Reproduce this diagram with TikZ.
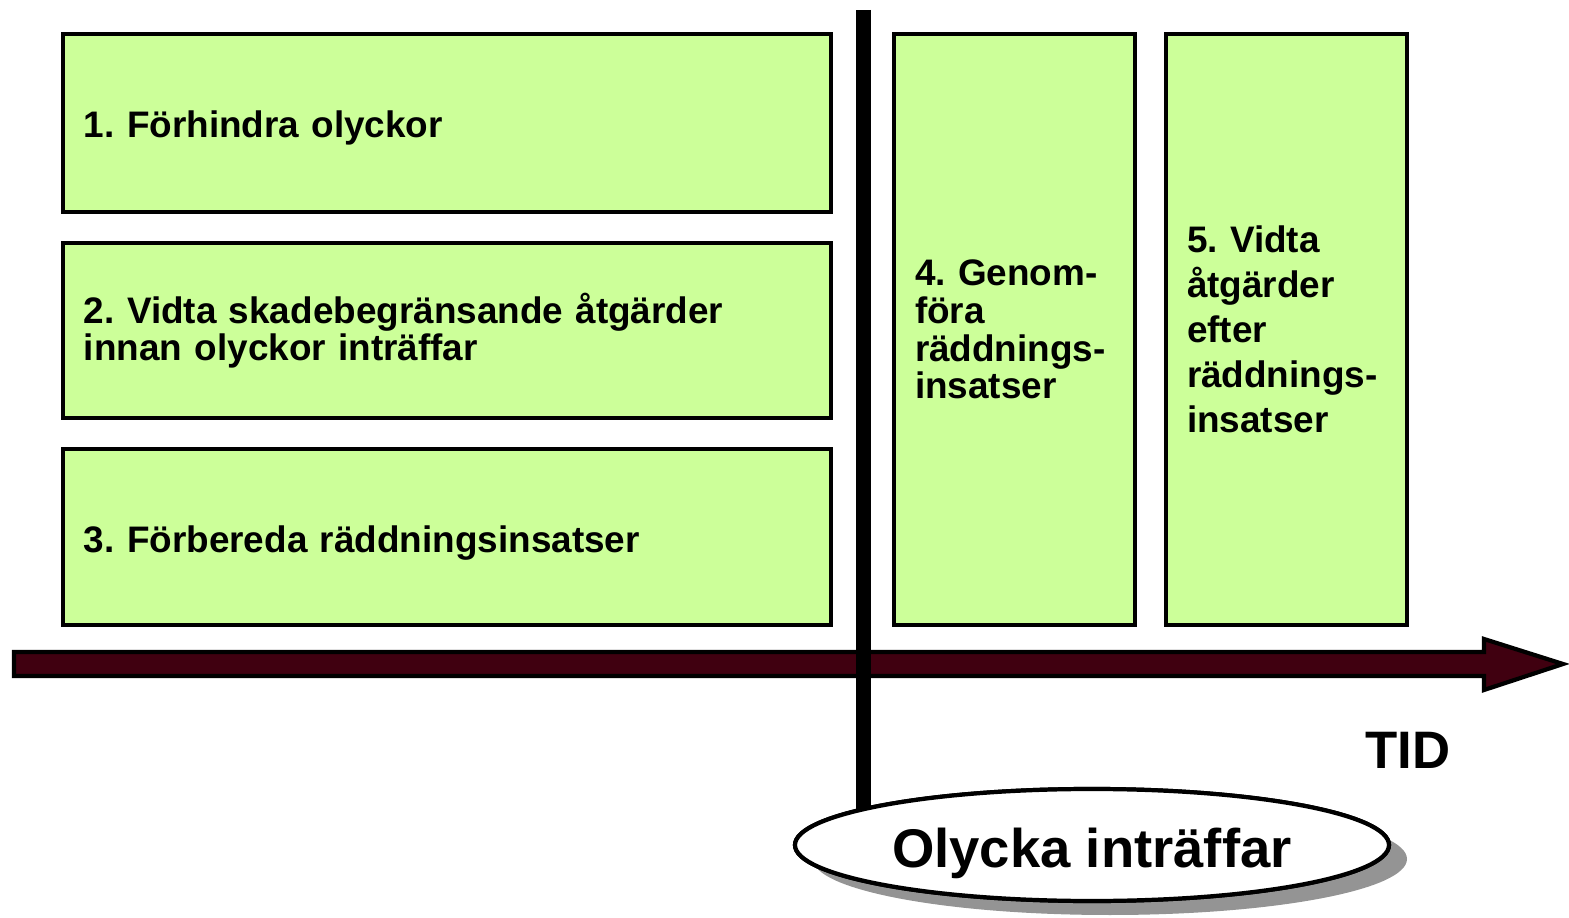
\documentclass[tikz,border=0pt]{standalone}
\usepackage{fontspec}
\setmainfont{Liberation Sans}
\usetikzlibrary{shapes.geometric,shadows}
\definecolor{boxgreen}{RGB}{204,255,153}
\definecolor{tidred}{RGB}{64,0,16}
\frenchspacing
\begin{document}
\begin{tikzpicture}
\tikzstyle{box}=[rectangle,draw,line width=0.9pt,fill=boxgreen,inner xsep=0.21cm,align=left,
  font=\bfseries\fontsize{10.5}{10.7}\selectfont]
\useasboundingbox (0,0) rectangle (15.69,9.17);
\node[box,minimum width=7.68cm,minimum height=1.78cm,text width=7.26cm,text height=0.38cm,text depth=0.08cm] at (4.47,7.94) (b1) {1. Förhindra olyckor};
\node[box,minimum width=7.68cm,minimum height=1.75cm,text width=7.26cm] at (4.47,5.865) (b2) {2. Vidta skadebegränsande åtgärder\\innan olyckor inträffar};
\node[box,minimum width=7.68cm,minimum height=1.76cm,text width=7.26cm,text height=0.38cm,text depth=0.08cm] at (4.47,3.80) (b3) {3. Förbereda räddningsinsatser};
\node[box,minimum width=2.41cm,minimum height=5.91cm,text width=1.99cm] at (10.145,5.875) (b4) {4. Genom-\\föra\\räddnings-\\insatser};
\node[box,minimum width=2.41cm,minimum height=5.91cm,text width=1.99cm,
  font=\bfseries\fontsize{10.5}{12.8}\selectfont] at (12.865,5.875) (b5) {5. Vidta\\åtgärder\\efter\\räddnings-\\insatser};
\draw[line width=1.2pt,fill=tidred] (0.14,2.65) -- (14.84,2.65) -- (14.84,2.78) -- (15.63,2.53)
  -- (14.84,2.27) -- (14.84,2.41) -- (0.14,2.41) -- cycle;
\node[font=\bfseries\fontsize{15}{15}\selectfont] at (14.08,1.67) (tid) {TID};
\coordinate (top) at (8.63,9.07);
\node[ellipse,draw,line width=1.2pt,fill=white,minimum width=5.94cm,minimum height=1.12cm,
  drop shadow={shadow xshift=0.18cm,shadow yshift=-0.14cm,fill=black!42,opacity=1}] at (10.92,0.72) (acc) {};
\draw[line width=0.15cm] (top) -- (top |- acc.center);
\node[ellipse,draw,line width=1.2pt,fill=white,minimum width=5.94cm,minimum height=1.12cm,
  inner sep=0pt,text height=0.55cm,text depth=0.11cm,
  font=\bfseries\fontsize{15.5}{15.5}\selectfont] at (10.92,0.72) (acc2) {Olycka inträffar};
\end{tikzpicture}
\end{document}
